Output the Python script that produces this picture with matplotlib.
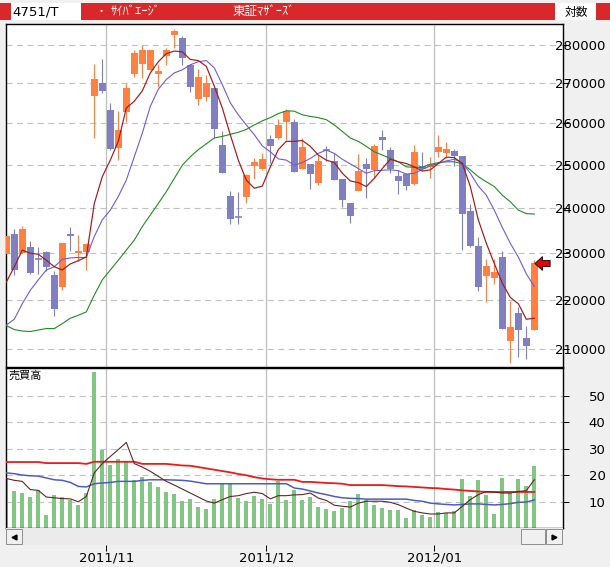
import numpy as np
import matplotlib.pyplot as plt
from matplotlib.patches import Rectangle
from matplotlib.path import Path
from matplotlib.ticker import FixedLocator, NullLocator, FuncFormatter

# 4751/T daily candles, Oct 13 2011 - Jan 23 2012
dates = [
    "2011-10-13", "2011-10-14", "2011-10-17", "2011-10-18", "2011-10-19", "2011-10-20",
    "2011-10-21", "2011-10-24", "2011-10-25", "2011-10-26", "2011-10-27", "2011-10-28",
    "2011-10-31",
    "2011-11-01", "2011-11-02", "2011-11-04", "2011-11-07", "2011-11-08", "2011-11-09",
    "2011-11-10", "2011-11-11", "2011-11-14", "2011-11-15", "2011-11-16", "2011-11-17",
    "2011-11-18", "2011-11-21", "2011-11-22", "2011-11-24", "2011-11-25", "2011-11-28",
    "2011-11-29", "2011-11-30",
    "2011-12-01", "2011-12-02", "2011-12-05", "2011-12-06", "2011-12-07", "2011-12-08",
    "2011-12-09", "2011-12-12", "2011-12-13", "2011-12-14", "2011-12-15", "2011-12-16",
    "2011-12-19", "2011-12-20", "2011-12-21", "2011-12-22", "2011-12-26", "2011-12-27",
    "2011-12-28", "2011-12-29", "2011-12-30",
    "2012-01-04", "2012-01-05", "2012-01-06", "2012-01-10", "2012-01-11", "2012-01-12",
    "2012-01-13", "2012-01-16", "2012-01-17", "2012-01-18", "2012-01-19", "2012-01-20",
    "2012-01-23",
]
opens = [229700, 234100, 230000, 231200, 228600, 230100, 225200, 222600, 234200, 229900,
         230200, 266700, 270200, 263300, 254000, 262800, 272400, 275000, 273500, 272300,
         277100, 282700, 281900, 274700, 266100, 266600, 268900, 254700, 242600, 238000,
         242400, 249800, 248900, 256100, 256400, 260300, 260300, 249100, 250100, 245700,
         253400, 251000, 246600, 241000, 243800, 250100, 248700, 256600, 253500, 247300,
         247800, 245400, 249800, 249400, 253000, 252700, 253200, 252000, 239200, 231600,
         225000, 224500, 229000, 211600, 217200, 212100, 213900]
highs = [233600, 235200, 235900, 232700, 231200, 230300, 226100, 232100, 235600, 233900,
         232200, 275000, 276300, 265100, 263100, 270200, 278600, 280000, 278700, 275000,
         279200, 284300, 282400, 275000, 273700, 272200, 268900, 258100, 243800, 243600,
         247800, 251500, 252700, 257100, 261000, 263600, 261000, 256400, 250100, 252300,
         254400, 252700, 246600, 241000, 252500, 251500, 254900, 258300, 254200, 248700,
         248000, 254700, 253000, 251900, 257100, 255400, 253700, 252000, 240800, 233400,
         228600, 228600, 230500, 219700, 218600, 214700, 228400]
lows = [229700, 225200, 229900, 225500, 225500, 226000, 216600, 222000, 230300, 228300,
        226200, 256400, 267500, 253600, 251100, 260300, 271700, 271300, 273500, 269000,
        274700, 279200, 274700, 267900, 264600, 265600, 256400, 248000, 236300, 236300,
        241200, 246600, 248700, 250300, 256100, 256000, 248200, 249100, 244300, 245200,
        251000, 246400, 240300, 236500, 243800, 242200, 246800, 253500, 248000, 243100,
        244000, 245200, 248700, 246800, 251800, 251500, 249700, 230700, 231200, 221800,
        219500, 223300, 214100, 207300, 208400, 208000, 213900]
closes = [233600, 226300, 235200, 225600, 228600, 226900, 218200, 232100, 233700, 230500,
          231900, 271200, 268100, 253700, 258300, 268900, 278000, 278700, 278700, 273200,
          278700, 283700, 276600, 269000, 271700, 270000, 258500, 248000, 237600, 238000,
          247500, 250600, 251300, 254400, 259500, 263000, 248200, 254200, 247800, 251000,
          253400, 246400, 241700, 238100, 248500, 249100, 254400, 255900, 249100, 246100,
          245000, 253000, 249000, 250200, 254200, 253700, 252100, 238700, 231400, 222600,
          227100, 225800, 214100, 214500, 213900, 210600, 227900]

# price moving averages (short / medium / long)
ma_short = [223700, 227000, 230600, 229900, 229700, 228400, 227000, 226300, 227600, 228300,
            229100, 241000, 247200, 251100, 255600, 263800, 265500, 268100, 272700, 275600,
            277700, 278400, 278200, 276200, 275900, 274400, 269300, 263800, 257200, 251100,
            246400, 244500, 245000, 249500, 253600, 255600, 255600, 255800, 254400, 252300,
            251100, 250500, 248000, 246200, 245800, 244900, 246800, 249100, 251300, 250700,
            250300, 249500, 248500, 248800, 250300, 251800, 251700, 250300, 244900, 237300,
            232100, 227700, 223500, 220500, 219200, 216000, 216200]
ma_mid = [214800, 216000, 219200, 222000, 224200, 226300, 227000, 228600, 228900, 229000,
          229000, 233600, 237300, 239500, 242600, 246400, 251900, 257600, 264200, 268500,
          271000, 272700, 273500, 274800, 275600, 275900, 274000, 269700, 265100, 262100,
          259600, 257200, 254500, 253100, 251400, 251100, 249900, 250500, 251500, 252700,
          253500, 252700, 251300, 250200, 249100, 248000, 248600, 248700, 248800, 248600,
          247800, 248000, 248900, 249700, 250300, 250900, 251300, 250500, 248000, 245000,
          242900, 239500, 235600, 232100, 229100, 225500, 222800]
ma_long = [214700, 213900, 213600, 213500, 213800, 214100, 214100, 215100, 216200, 216800,
           217500, 221000, 224200, 226300, 228400, 230600, 232800, 235800, 238400, 241000,
           243700, 246800, 249900, 251900, 253600, 255000, 256400, 256800, 257300, 257800,
           258500, 259600, 260600, 261400, 262400, 263100, 263000, 262100, 261700, 261400,
           260900, 259600, 258000, 256400, 255600, 254400, 253100, 252300, 251500, 250700,
           249500, 249400, 249400, 250100, 250500, 250700, 250700, 250200, 248800, 247200,
           246000, 244900, 242900, 241400, 239500, 238700, 238600]

# trading volume and its moving averages
volume = [19.0, 14.1, 13.3, 11.8, 14.3, 5.0, 12.6, 11.8, 10.7, 8.8,
          13.3, 59.0, 29.3, 23.9, 26.2, 25.0, 18.2, 19.4, 17.5, 15.6,
          13.7, 13.0, 10.3, 11.1, 8.1, 7.3, 11.1, 16.7, 16.7, 11.4,
          10.3, 12.2, 11.1, 9.2, 17.9, 10.7, 14.5, 10.7, 11.8, 8.1,
          7.3, 6.5, 7.7, 10.3, 13.0, 10.7, 8.8, 7.7, 6.9, 6.9,
          3.9, 6.9, 5.0, 4.3, 6.2, 5.8, 6.5, 18.6, 12.2, 18.2,
          12.6, 5.4, 19.0, 13.3, 18.6, 16.0, 23.5]
vol_short = [18.7, 18.0, 17.6, 14.5, 14.2, 11.7, 11.4, 11.1, 11.0, 9.9,
             11.9, 20.8, 24.3, 27.0, 29.6, 32.3, 24.3, 23.0, 21.4, 19.5,
             17.6, 16.2, 14.7, 13.2, 11.7, 10.2, 9.4, 10.7, 11.9, 12.2,
             13.0, 13.5, 13.0, 11.0, 12.2, 12.2, 12.5, 12.6, 13.2, 11.3,
             10.4, 8.6, 8.2, 7.9, 9.4, 10.1, 10.1, 10.1, 9.7, 8.8,
             7.5, 6.3, 5.7, 5.3, 5.3, 5.7, 5.7, 8.2, 10.7, 12.6,
             13.8, 13.5, 13.2, 13.2, 13.8, 14.1, 18.2]
vol_mid = [20.8, 20.5, 20.0, 19.7, 19.6, 18.9, 18.2, 18.0, 17.2, 15.7,
           15.5, 16.7, 17.0, 17.2, 17.6, 17.6, 17.6, 18.0, 18.2, 18.2,
           18.2, 18.1, 18.0, 17.7, 17.2, 16.7, 16.7, 16.7, 16.7, 16.7,
           16.7, 16.7, 16.7, 16.7, 16.7, 16.7, 15.1, 14.7, 14.0, 13.2,
           12.6, 11.9, 11.4, 11.2, 11.1, 10.9, 10.9, 10.9, 10.9, 10.9,
           10.9, 10.4, 10.1, 9.4, 9.1, 8.9, 8.7, 8.9, 9.1, 9.1,
           8.9, 8.7, 8.9, 9.2, 9.7, 9.8, 10.6]
vol_long = [24.9, 24.9, 24.9, 24.9, 24.9, 24.5, 24.5, 24.5, 24.5, 24.5,
            24.2, 25.0, 25.0, 25.0, 25.0, 25.0, 25.0, 24.2, 24.2, 24.2,
            24.2, 23.9, 23.6, 23.5, 23.0, 22.5, 22.0, 21.5, 21.0, 20.4,
            19.9, 19.2, 18.7, 18.4, 18.2, 18.2, 18.2, 17.4, 17.4, 17.2,
            17.0, 16.9, 16.7, 16.2, 16.2, 16.2, 16.2, 16.2, 16.0, 15.8,
            15.7, 15.5, 15.3, 15.1, 15.0, 14.7, 14.5, 14.2, 14.0, 13.8,
            13.6, 13.6, 13.6, 13.6, 13.6, 13.6, 13.6]

price_ticks = [210000, 220000, 230000, 240000, 250000, 260000, 270000, 280000]
volume_ticks = [10, 20, 30, 40, 50]

W, H = 610, 567
PX = 0.72  # one pixel in points at dpi 100
NUM_FONT = ['Liberation Sans Narrow', 'DejaVu Sans']
JP_FONT = ['Noto Sans CJK JP', 'DejaVu Sans']
plt.rcParams['font.family'] = NUM_FONT

UP, DOWN = '#ff8040', '#8080c0'
GRID = '#c0c0c0'


def box(x0, y0, x1, y1):
    # pixel box (top-left origin) -> figure fraction [l, b, w, h]
    return [x0 / W, 1 - y1 / H, (x1 - x0) / W, (y1 - y0) / H]


def fig_rect(x0, y0, x1, y1, fc, ec='none'):
    l, b, w, h = box(x0, y0, x1, y1)
    fig.add_artist(Rectangle((l, b), w, h, transform=fig.transFigure,
                             facecolor=fc, edgecolor=ec, lw=PX))


fig = plt.figure(figsize=(W / 100, H / 100), dpi=100, facecolor='#f0f0f0')

# header strip
fig_rect(0, 3, W, 20, '#d8282a')
fig_rect(11, 3, 81, 20, 'white')
fig_rect(555, 3, 596, 20, 'white')
fig.text(12 / W, 1 - 12 / H, "4751/T", fontsize=9.5, va='center', ha='left')
fig.text(96 / W, 1 - 12 / H, "・", fontsize=8, color='white', va='center', family=JP_FONT)
fig.text(111 / W, 1 - 12 / H, "ｻｲﾊﾞｴｰｼﾞ", fontsize=9, color='white', va='center', family=JP_FONT)
fig.text(232 / W, 1 - 12 / H, "東証ﾏｻﾞｰｽﾞ", fontsize=9, color='white', va='center', family=JP_FONT)
fig.text(565 / W, 1 - 12 / H, "対数", fontsize=8.5, va='center', family=JP_FONT)

x = np.arange(len(dates))
months = [d[:7] for d in dates]
bounds = [i for i in range(1, len(dates)) if months[i] != months[i - 1]]
xmax = (563 - 6.3) / 8

ax = fig.add_axes(box(6.3, 24, 563, 367))
axv = fig.add_axes(box(6.3, 368, 563, 528))
axs = fig.add_axes(box(6.3, 528, 563, 545))

# ---- price panel
o, h, l, c = (np.array(v, dtype=float) for v in (opens, highs, lows, closes))
colors = np.where(c > o, UP, DOWN)
ax.vlines(x, l, h, colors=colors, lw=1.1 * PX, zorder=2)
ax.bar(x, np.abs(c - o), bottom=np.minimum(o, c), width=0.84, color=colors,
       linewidth=0, zorder=3)
doji = c == o
ax.hlines(o[doji], x[doji] - 0.42, x[doji] + 0.42, colors=colors[doji], lw=1.6 * PX, zorder=3)

ax.plot(x, ma_long, color='#1f8a1f', lw=1.1 * PX, zorder=4)
ax.plot(x, ma_mid, color='#7058d8', lw=1.1 * PX, zorder=4)
ax.plot(x, ma_short, color='#a01c1c', lw=1.2 * PX, zorder=5)

# last price marker
arrow = Path([(-1, 0), (0, 0.9), (0, 0.4), (1, 0.4), (1, -0.4), (0, -0.4), (0, -0.9), (-1, 0)],
             [Path.MOVETO] + [Path.LINETO] * 6 + [Path.CLOSEPOLY])
ax.plot([len(dates)], [closes[-1]], marker=arrow, markersize=11, color='#ee0000',
        markeredgecolor='black', markeredgewidth=0.8 * PX, clip_on=False, zorder=6)

ax.set_yscale('log')
ax.set_ylim(206450, 285620)
ax.yaxis.set_major_locator(FixedLocator(price_ticks))
ax.yaxis.set_minor_locator(NullLocator())
ax.yaxis.set_major_formatter(FuncFormatter(lambda v, p: f"{v:.0f}"))

# ---- volume panel
axv.bar(x, volume, width=0.5, color='#80c880', linewidth=0, zorder=2)
axv.plot(x, vol_long, color='#ee1a1a', lw=1.8 * PX, zorder=3)
axv.plot(x, vol_mid, color='#4a5cc0', lw=1.5 * PX, zorder=3)
axv.plot(x, vol_short, color='#602424', lw=1.1 * PX, zorder=4)
axv.set_ylim(0, 60.4)
axv.yaxis.set_major_locator(FixedLocator(volume_ticks))
axv.text(0.004, 0.985, "売買高", transform=axv.transAxes, fontsize=8, va='top',
         family=JP_FONT)

for a in (ax, axv):
    a.set_xlim(0, xmax)
    a.set_facecolor('white')
    a.grid(axis='y', color=GRID, lw=1.1 * PX, ls=(0, (5.5, 4)), zorder=0)
    for b in bounds:
        a.axvline(b - 0.5, color=GRID, lw=1.3 * PX, zorder=1)
    a.set_xticks([])
    a.yaxis.tick_right()
    a.tick_params(axis='y', direction='out', length=4, width=PX, pad=(41 - 4) * PX,
                  labelsize=9.5)
    plt.setp(a.get_yticklabels(), ha='right')
    for s in a.spines.values():
        s.set_linewidth(1.4 * PX)
        s.set_color('black')

# ---- scroll bar strip with month labels
axs.set_xlim(0, xmax)
axs.set_ylim(0, 1)
axs.set_facecolor('#ebebeb')
axs.set_yticks([])
axs.set_xticks([b - 0.5 for b in bounds])
axs.set_xticklabels([dates[b][:7].replace('-', '/') for b in bounds])
axs.tick_params(axis='x', direction='out', length=4, width=PX, pad=0.5, labelsize=9.5)
for s in axs.spines.values():
    s.set_visible(False)
span = 563 - 6.3
for x0, x1 in ((6.3, 22), (521, 545), (546, 562)):
    axs.add_patch(Rectangle(((x0 - 6.3) / span, 0.06), (x1 - x0) / span, 0.9,
                            transform=axs.transAxes, facecolor='#f0f0f0',
                            edgecolor='#909090', lw=PX))
axs.plot([(14 - 6.3) / span], [0.5], marker='<', color='black', markersize=3.5,
         transform=axs.transAxes)
axs.plot([(554 - 6.3) / span], [0.5], marker='>', color='black', markersize=3.5,
         transform=axs.transAxes)

fig.savefig('out.png', dpi=100, facecolor=fig.get_facecolor())
